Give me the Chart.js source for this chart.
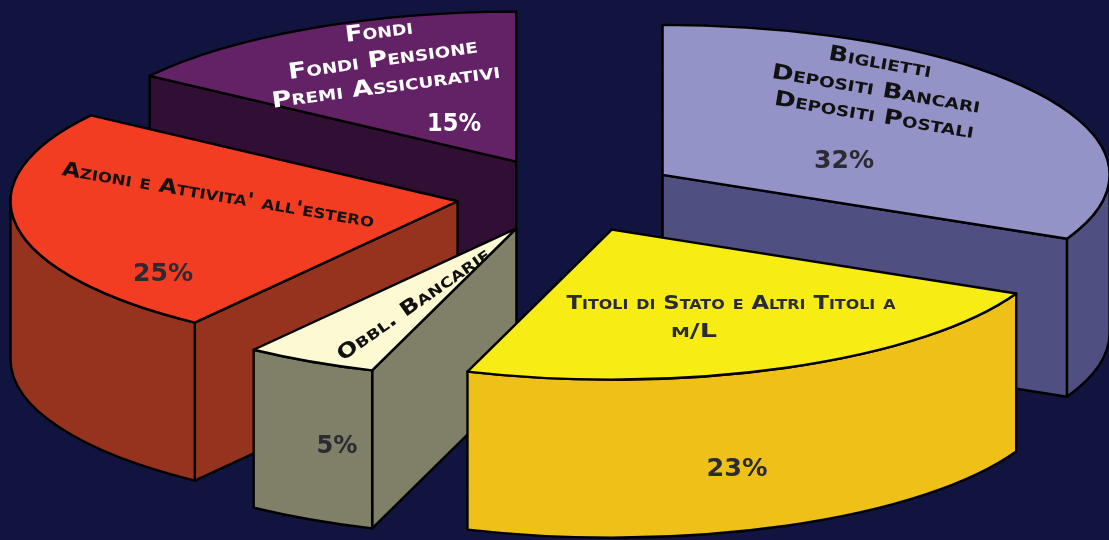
<!DOCTYPE html>
<html><head><meta charset="utf-8">
<style>html,body{margin:0;padding:0;background:#10143f;overflow:hidden}canvas{display:block}</style>
<script src="https://cdn.jsdelivr.net/npm/chart.js@4"></script>
</head><body><canvas id="c" width="1109" height="540"></canvas>
<script>
const categories = ["Biglietti, Depositi Bancari, Depositi Postali","Titoli di Stato e Altri Titoli a m/L","Obbl. Bancarie","Azioni e Attivita' all'estero","Fondi, Fondi Pensione, Premi Assicurativi"];
const values = [32,23.23,4.77,24.7,15.3];
const topColors = ["#9393c8","#f7ec13","#fdf9d3","#f33d22","#642266"];
const wallColors = ["#4f4f82","#efc018","#808068","#96331e","#310e33"];

// presentation settings
const RIM = 447, TILT = 150/447, DEPTH = 158, EXPLODE = 112;
const DARK = "#2b2b33", FONT = '"DejaVu Sans"';
// text, centre x, centre y, rotation deg, width, font px, colour, clip-to-slice
const labelLines = [
 ["Fondi",379,32,-7,68,22,"#fff"],
 ["Fondi Pensione",383,60,-8,191,22,"#fff"],
 ["Premi Assicurativi",386,87,-7.5,230,22,"#fff"],
 ["15%",454,125,0,54,24,"#fff"],
 ["Azioni e Attivita' all'estero",218,196,9.5,316,20,"#111"],
 ["25%",163,275,0,60,24,DARK],
 ["Biglietti",880,63,10,104,21,"#111"],
 ["Depositi Bancari",876,90,9.6,211,21,"#111"],
 ["Depositi Postali",874,116,9.6,202,21,"#111"],
 ["32%",844,162,0,60,24,DARK],
 ["Obbl. Bancarie",414,305,-35,182,20,"#111",2],
 ["5%",337,447,0,41,24,DARK],
 ["Titoli di Stato e Altri Titoli a",731,304,0,329,20,DARK],
 ["m/L",694,332,0,46,20,DARK],
 ["23%",737,470,0,61,24,DARK]
];

function geom(arc){
  const off = (arc.options.offset||0)/4, mid=(arc.startAngle+arc.endAngle)/2;
  return {R:RIM, s:arc.startAngle, e:arc.endAngle,
    cx:arc.x+Math.cos(mid)*off, cy:arc.y+Math.sin(mid)*off*TILT};
}
function pt(g,a){return [g.cx+Math.cos(a)*g.R, g.cy+Math.sin(a)*g.R*TILT];}
function wedge(ctx,g){
  ctx.beginPath();ctx.moveTo(g.cx,g.cy);
  ctx.ellipse(g.cx,g.cy,g.R,g.R*TILT,0,g.s,g.e);
  ctx.closePath();
}
function radial(ctx,g,a,fill){
  const p=pt(g,a);
  ctx.beginPath();ctx.moveTo(g.cx,g.cy);ctx.lineTo(p[0],p[1]);
  ctx.lineTo(p[0],p[1]+DEPTH);ctx.lineTo(g.cx,g.cy+DEPTH);ctx.closePath();
  ctx.fillStyle=fill;ctx.fill();ctx.stroke();
}
const pie3d = {
  id:"pie3d",
  beforeDatasetsDraw(chart){
    const ctx=chart.ctx, arcs=chart.getDatasetMeta(0).data;
    // Chart.js widens an exploded arc by offset/4 * (1 - sin(sweep)); compensate so all slices share one rim
    arcs.forEach(a=>{
      const off=(a.options.offset||0)/4, sweep=a.endAngle-a.startAngle;
      a.outerRadius=RIM-off*(1-Math.sin(Math.min(Math.PI,sweep)))-1;
    });
    const order=arcs.map((a,i)=>({i,g:geom(a)})).sort((p,q)=>p.g.cy-q.g.cy);
    ctx.save();
    ctx.strokeStyle="#000";ctx.lineWidth=2.4;ctx.lineJoin="round";
    for(const {i,g} of order){
      const col=wallColors[i];
      if(-Math.cos(g.s)>1e-6) radial(ctx,g,g.s,col);
      if(Math.cos(g.e)>1e-6) radial(ctx,g,g.e,col);
      const a=Math.max(g.s,0), b=Math.min(g.e,Math.PI);
      if(b>a){
        ctx.beginPath();
        ctx.ellipse(g.cx,g.cy,g.R,g.R*TILT,0,a,b);
        ctx.ellipse(g.cx,g.cy+DEPTH,g.R,g.R*TILT,0,b,a,true);
        ctx.closePath();ctx.fillStyle=col;ctx.fill();ctx.stroke();
      }
    }
    ctx.restore();
    const cy=arcs[0].y;
    ctx.save();
    ctx.translate(0,cy);ctx.scale(1,TILT);ctx.translate(0,-cy);
  },
  afterDatasetsDraw(chart){
    const ctx=chart.ctx, arcs=chart.getDatasetMeta(0).data;
    ctx.restore();
    ctx.save();
    ctx.strokeStyle="#000";ctx.lineWidth=2.4;ctx.lineJoin="round";
    arcs.forEach(a=>{
      wedge(ctx,geom(a));
      ctx.fillStyle=a.options.backgroundColor;ctx.fill();ctx.stroke();
    });
    ctx.restore();
    for(const [t,x,y,rot,w,size,col,clip] of labelLines){
      ctx.save();
      if(clip!==undefined){wedge(ctx,geom(arcs[clip]));ctx.clip();}
      ctx.font=`small-caps bold ${size}px ${FONT}`;
      ctx.textAlign="center";ctx.textBaseline="middle";ctx.fillStyle=col;
      const m=ctx.measureText(t).width;
      ctx.translate(x,y);ctx.rotate(rot*Math.PI/180);ctx.scale(w/m,1);
      ctx.fillText(t,0,0);
      ctx.restore();
    }
  }
};
new Chart(document.getElementById("c"),{
  type:"pie",
  data:{labels:categories,datasets:[{data:values,backgroundColor:topColors,borderWidth:0,offset:EXPLODE*4,clip:false}]},
  options:{
    responsive:false,animation:false,
    cutout:"0%",
    radius:RIM-EXPLODE,
    layout:{padding:{left:27,bottom:150}},
    plugins:{legend:{display:false},tooltip:{enabled:false}}
  },
  plugins:[pie3d]
});
</script></body></html>
